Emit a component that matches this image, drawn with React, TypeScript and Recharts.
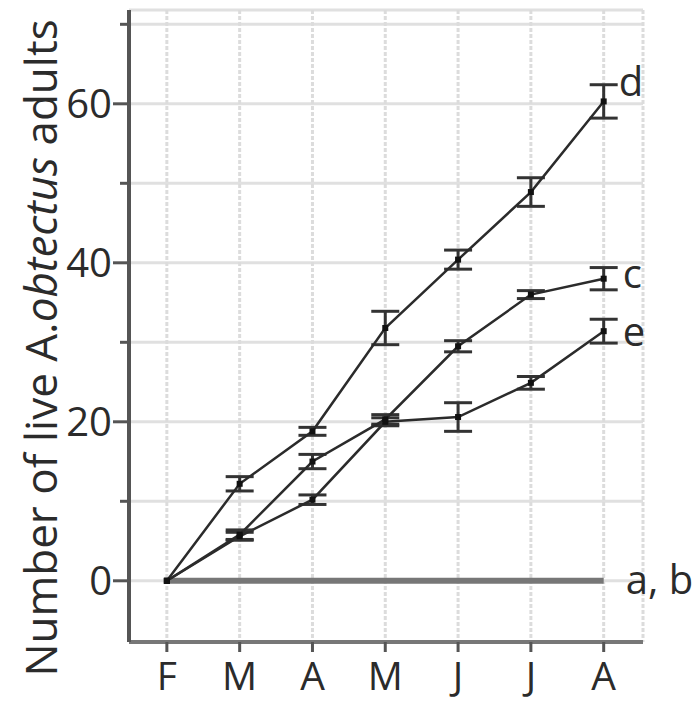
import React from 'react';
import { LineChart, Line, XAxis, YAxis, CartesianGrid, ErrorBar } from 'recharts';

const months = ['F', 'M', 'A', 'M', 'J', 'J', 'A'];
const yTicks = [0, 10, 20, 30, 40, 50, 60, 70];

const seriesD = [0, 12.2, 18.8, 31.8, 40.4, 48.9, 60.3];
const errD = [null, 0.9, 0.5, 2.1, 1.2, 1.8, 2.1];
const seriesC = [0, 5.8, 15.0, 20.3, 29.5, 36.0, 38.0];
const errC = [null, 0.6, 0.9, 0.6, 0.7, 0.5, 1.4];
const seriesE = [0, 5.6, 10.2, 20.0, 20.6, 24.9, 31.4];
const errE = [null, 0.5, 0.6, 0.5, 1.8, 0.8, 1.5];
const seriesAB = [0, 0, 0, 0, 0, 0, 0];

const data = months.map((m, i) => ({
  x: i,
  d: seriesD[i],
  dErr: errD[i],
  c: seriesC[i],
  cErr: errC[i],
  e: seriesE[i],
  eErr: errE[i],
  ab: seriesAB[i],
}));

const FONT = '"Open Sans", sans-serif';
const INK = '#2b2b2b';

const squareDot = (props: any) => {
  const { cx, cy, index } = props;
  if (cx == null || cy == null) return <g key={index} />;
  return <rect key={index} x={cx - 3} y={cy - 3} width={6} height={6} fill="#111" />;
};

const YTick = (props: any) => {
  const { x, y, payload } = props;
  const v = payload.value;
  const major = v % 20 === 0;
  return (
    <g>
      <line x1={x - (major ? 16 : 9)} x2={x} y1={y} y2={y} stroke="#555" strokeWidth={3} />
      {major && (
        <text x={x - 17} y={y} dy="0.36em" textAnchor="end" fontSize={40} fill={INK} fontFamily={FONT}>
          {v}
        </text>
      )}
    </g>
  );
};

const endLabel = (text: string, dx: number, dy: number) => (props: any) => {
  const { x, y, index } = props;
  if (index !== months.length - 1) return null;
  return (
    <text x={x + dx} y={y + dy} fontSize={40} fill={INK} fontFamily={FONT}>
      {text}
    </text>
  );
};

const AxisTitle = () => (
  <text
    x={57}
    y={348}
    transform="rotate(-90 57 348)"
    textAnchor="middle"
    fontSize={44}
    fill={INK}
    fontFamily={FONT}
  >
    Number of live <tspan>A.</tspan>
    <tspan fontStyle="italic">obtectus</tspan> adults
  </text>
);

export default function App() {
  return (
    <div style={{ position: 'absolute', left: 0, top: 0, width: 698, height: 702, background: '#fff' }}>
      <LineChart width={698} height={702} data={data} margin={{ top: 10, right: 55, left: 0, bottom: 0 }}>
        <CartesianGrid horizontal={true} vertical={false} stroke="#e0e0e0" strokeWidth={3} />
        <CartesianGrid horizontal={false} vertical={true} stroke="#dcdcdc" strokeWidth={3} strokeDasharray="4 2" />
        <XAxis
          dataKey="x"
          type="number"
          domain={[-0.52, 6.54]}
          ticks={[0, 1, 2, 3, 4, 5, 6]}
          tickFormatter={(i: number) => months[i]}
          allowDataOverflow
          height={60}
          axisLine={{ stroke: '#777', strokeWidth: 4 }}
          tickLine={{ stroke: '#555', strokeWidth: 3 }}
          tickSize={10}
          tickMargin={10}
          tick={{ fontSize: 39, fill: INK, fontFamily: FONT }}
        />
        <YAxis
          type="number"
          domain={[-7.7, 71.8]}
          ticks={yTicks}
          allowDataOverflow
          width={129}
          axisLine={{ stroke: '#555', strokeWidth: 4 }}
          tickLine={false}
          tickSize={0}
          tickMargin={0}
          tick={<YTick />}
          label={<AxisTitle />}
        />
        <Line
          dataKey="ab"
          stroke="#777"
          strokeWidth={6}
          dot={false}
          isAnimationActive={false}
          label={endLabel('a, b', 22, 13)}
        />
        <Line
          dataKey="e"
          stroke={INK}
          strokeWidth={2.5}
          dot={squareDot}
          isAnimationActive={false}
          label={endLabel('e', 19, 15)}
        >
          <ErrorBar dataKey="eErr" direction="y" width={14} stroke="#333" strokeWidth={3} />
        </Line>
        <Line
          dataKey="c"
          stroke={INK}
          strokeWidth={2.5}
          dot={squareDot}
          isAnimationActive={false}
          label={endLabel('c', 19, 9)}
        >
          <ErrorBar dataKey="cErr" direction="y" width={14} stroke="#333" strokeWidth={3} />
        </Line>
        <Line
          dataKey="d"
          stroke={INK}
          strokeWidth={2.5}
          dot={squareDot}
          isAnimationActive={false}
          label={endLabel('d', 15, -5)}
        >
          <ErrorBar dataKey="dErr" direction="y" width={14} stroke="#333" strokeWidth={3} />
        </Line>
      </LineChart>
    </div>
  );
}
